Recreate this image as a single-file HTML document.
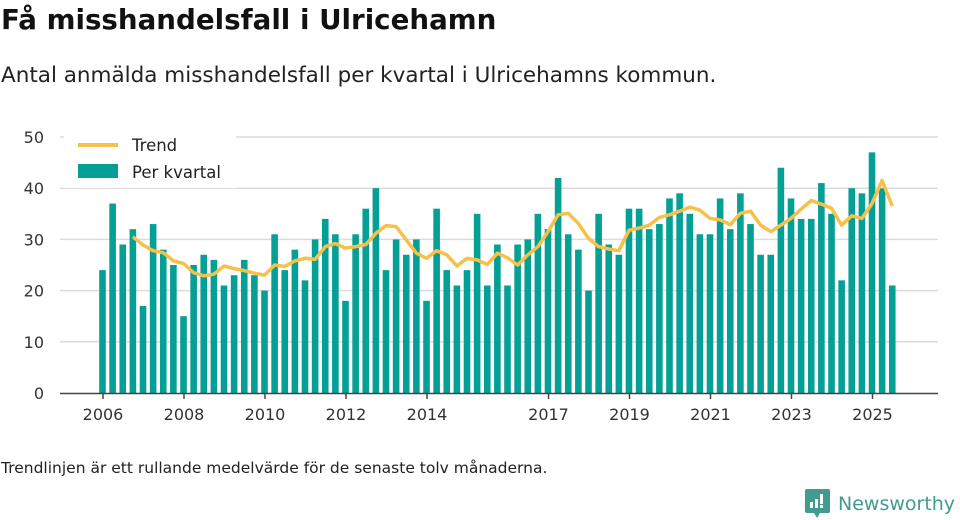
<!DOCTYPE html>
<html><head><meta charset="utf-8">
<style>
body{margin:0;background:#fff;font-family:"DejaVu Sans","Liberation Sans",sans-serif;}
#wrap{position:relative;width:960px;height:520px;overflow:hidden;}
h1{position:absolute;left:1px;top:3px;margin:0;font-size:27.7px;font-weight:bold;color:#111;}
.sub{position:absolute;left:1px;top:63px;margin:0;font-size:21.5px;color:#222;}
.foot{position:absolute;left:1px;top:459px;font-size:15.5px;color:#222;}
.logo{position:absolute;left:805px;top:489px;display:flex;align-items:center;}
.logo span{font-size:19px;color:#3f9c8f;margin-left:8px;}
</style></head><body>
<div id="wrap">
<h1>Få misshandelsfall i Ulricehamn</h1>
<p class="sub">Antal anmälda misshandelsfall per kvartal i Ulricehamns kommun.</p>
<svg id="chart" width="960" height="520" style="position:absolute;left:0;top:0"></svg>
<div class="foot">Trendlinjen är ett rullande medelvärde för de senaste tolv månaderna.</div>
<div class="logo">
<svg width="25" height="30" viewBox="0 0 25 30"><path d="M2 0h21a2 2 0 0 1 2 2v20a2 2 0 0 1-2 2h-8l-3 5-3-5H2a2 2 0 0 1-2-2V2a2 2 0 0 1 2-2z" fill="#3f9c8f"/><rect x="5" y="13" width="3" height="6" fill="#fff"/><rect x="10" y="10" width="3" height="9" fill="#fff"/><rect x="15" y="5" width="3" height="10" fill="#fff"/><rect x="15" y="16" width="3" height="3" fill="#fff"/></svg>
<span>Newsworthy</span></div>
</div>
<script>
const startYear = 2006;
const counts = [24,37,29,32, 17,33,28,25, 15,25,27,26, 21,23,26,23, 20,31,24,28, 22,30,34,31, 18,31,36,40, 24,30,27,30, 18,36,24,21, 24,35,21,29, 21,29,30,35, 32,42,31,28, 20,35,29,27, 36,36,32,33, 38,39,35,31, 31,38,32,39, 33,27,27,44, 38,34,34,41, 35,22,40,39, 47,40,21];
const trend = [null,null,null,30.5,28.9,27.8,27.4,25.8,25.3,23.5,22.9,23.2,24.8,24.3,23.9,23.4,23.0,25.0,24.7,25.8,26.3,26.1,28.6,29.2,28.3,28.6,29.0,31.2,32.7,32.5,29.9,27.3,26.3,27.8,27.0,24.8,26.3,26.0,25.1,27.3,26.4,25.0,27.0,28.6,31.5,34.8,35.1,33.1,30.2,28.6,28.1,27.8,31.8,32.2,32.8,34.3,34.8,35.5,36.3,35.7,34.1,33.8,32.9,35.1,35.5,32.8,31.5,32.8,34.1,35.9,37.6,36.9,36.1,32.8,34.6,34.1,37.0,41.5,36.5];
const yTicks = [0,10,20,30,40,50];
const xTickYears = [2006,2008,2010,2012,2014,2017,2019,2021,2023,2025];

const svg = document.getElementById('chart');
const NS = 'http://www.w3.org/2000/svg';
const FF = 'DejaVu Sans, Liberation Sans, sans-serif';
const y = v => 393 - v * 5.12;
const xYear = yr => 103 + (yr - 2006) * 40.5;
const xIdx = i => xYear(startYear + i / 4) - 0.5;
function mk(tag, attrs){const e=document.createElementNS(NS,tag);for(const k in attrs)e.setAttribute(k,attrs[k]);svg.appendChild(e);return e;}

yTicks.forEach(t=>{
  if(t>0){const g=mk('line',{x1:60,x2:938,y1:y(t),y2:y(t),stroke:'#dcdcdc','stroke-width':1.5});
  
  }
  const l=mk('text',{x:44,y:y(t)+6,'text-anchor':'end','font-size':16,fill:'#333','font-family':FF});
  l.textContent=t;
  
  
});

counts.forEach((v,i)=>{
  const r=mk('rect',{x:xIdx(i)-3.3,y:y(v),width:6.6,height:v*5.12,fill:'#04a096'});
  
  
});

let d='';
trend.forEach((v,i)=>{if(v===null)return;d+=(d?'L':'M')+xIdx(i).toFixed(1)+' '+y(v).toFixed(1);});
const p=mk('path',{d:d,fill:'none',stroke:'#f7c04a','stroke-width':3.5,'stroke-linejoin':'round'});



const ax=mk('line',{x1:60,x2:938,y1:393.5,y2:393.5,stroke:'#444','stroke-width':1.5});


xTickYears.forEach(yr=>{
  const t=mk('line',{x1:xYear(yr),x2:xYear(yr),y1:393,y2:399,stroke:'#444','stroke-width':1.5});
  
  
  const l=mk('text',{x:xYear(yr),y:420,'text-anchor':'middle','font-size':16,fill:'#333','font-family':FF});
  l.textContent=yr;
  
  
});

const lg=mk('rect',{x:64,y:130,width:172,height:58,fill:'#fff'});


const l1=mk('line',{x1:78,x2:118,y1:145,y2:145,stroke:'#f7c04a','stroke-width':4});


const t1=mk('text',{x:132,y:151,'font-size':16.5,fill:'#222','font-family':FF});t1.textContent='Trend';


const s2=mk('rect',{x:78,y:164,width:40,height:14,fill:'#04a096'});


const t2=mk('text',{x:132,y:178,'font-size':16.5,fill:'#222','font-family':FF});t2.textContent='Per kvartal';


</script>
</body></html>
